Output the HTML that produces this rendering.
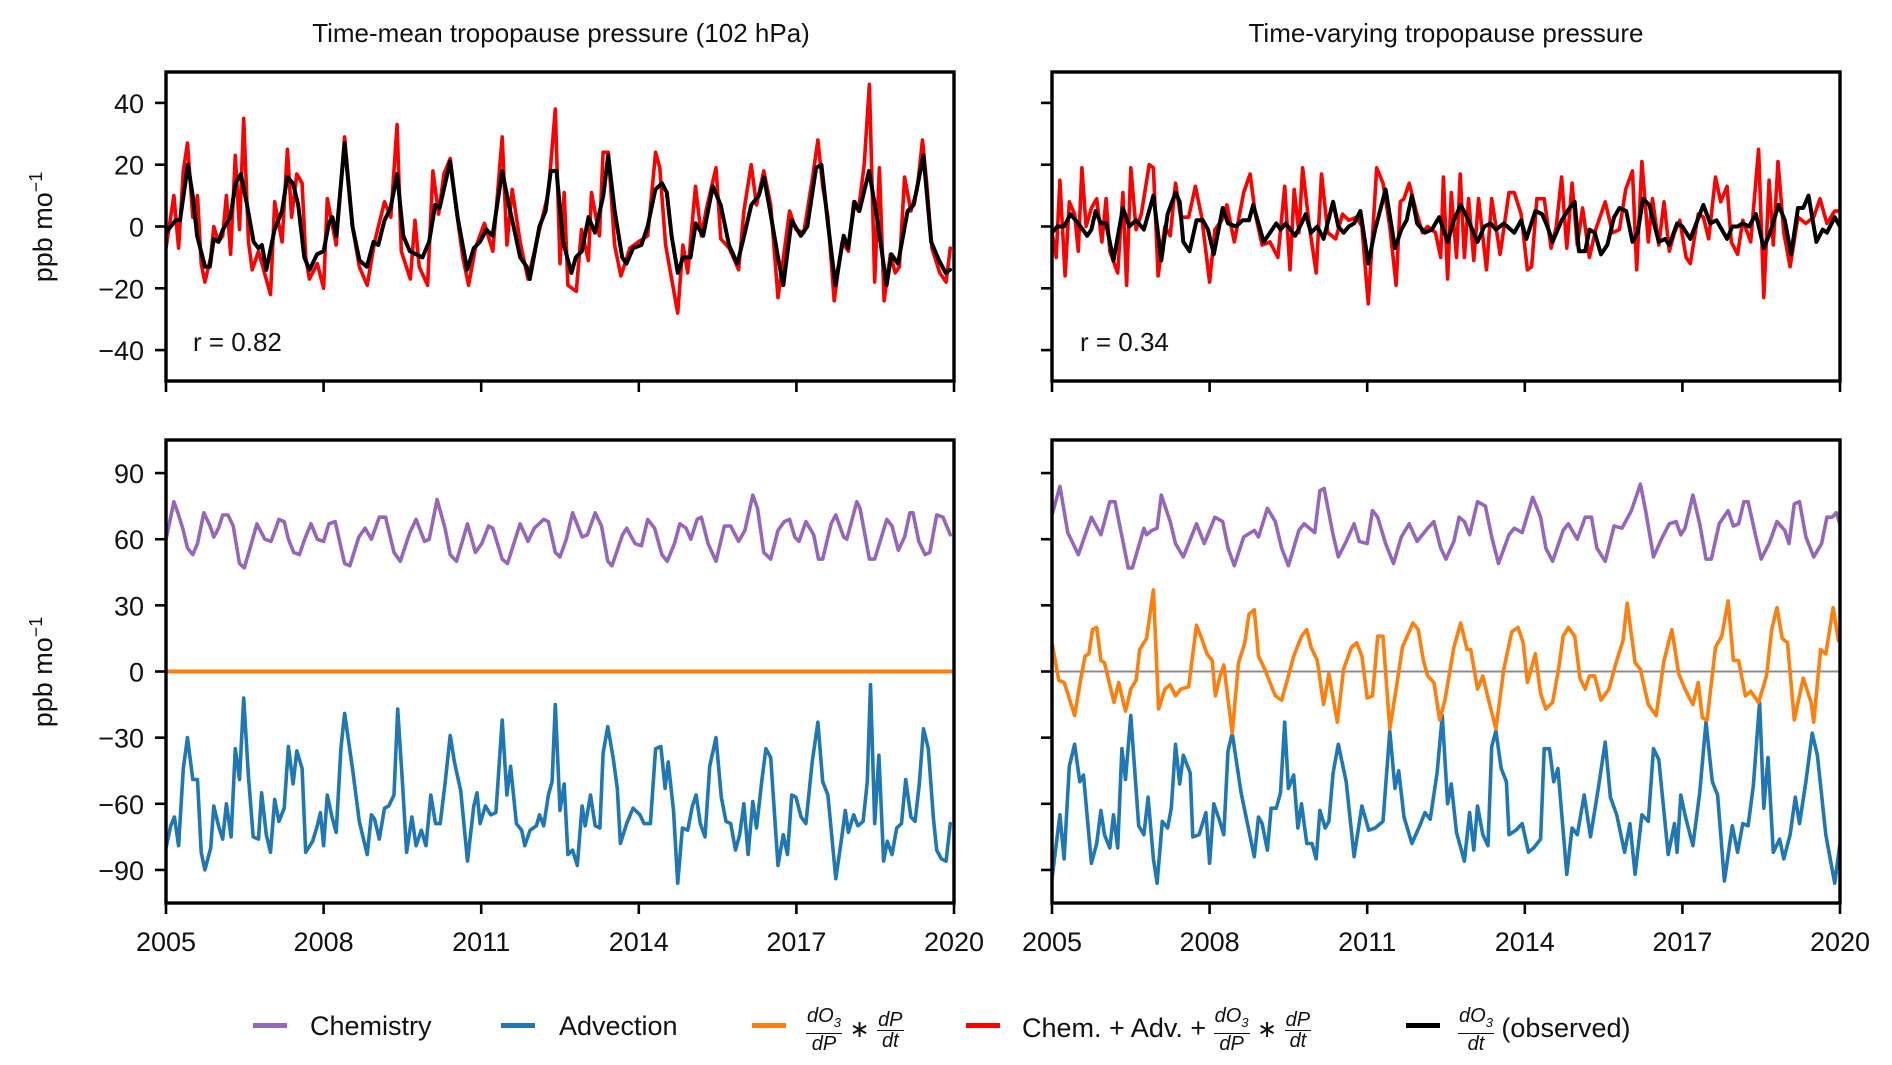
<!DOCTYPE html>
<html><head><meta charset="utf-8">
<style>
html,body{margin:0;padding:0;background:#fff;}
body{width:1892px;height:1065px;position:relative;overflow:hidden;font-family:"Liberation Sans",sans-serif;color:#111;}
svg{position:absolute;left:0;top:0;}
svg text{font-family:"Liberation Sans",sans-serif;fill:#111;}
.leg{position:absolute;top:1006px;height:40px;font-size:27px;line-height:40px;white-space:nowrap;}
.sw{position:absolute;top:1023px;width:34px;height:5px;}
.frac{display:inline-block;vertical-align:middle;text-align:center;font-style:italic;font-size:20px;line-height:20px;}
.frac .n{display:block;border-bottom:1.5px solid #111;padding:0 1px;}
.frac .d{display:block;}
</style></head><body>
<svg id="chart" width="1892" height="1065" viewBox="0 0 1892 1065"></svg>

<div class="sw" style="left:253px;background:#9467bd"></div>
<div class="leg" style="left:310px">Chemistry</div>
<div class="sw" style="left:501px;background:#1f77b4"></div>
<div class="leg" style="left:559px">Advection</div>
<div class="sw" style="left:752px;background:#ff7f0e"></div>
<div class="leg" style="left:806px"><span class="frac"><span class="n">dO<sub style="font-size:13px">3</sub></span><span class="d">dP</span></span> <span style="font-size:24px">∗</span> <span class="frac"><span class="n">dP</span><span class="d">dt</span></span></div>
<div class="sw" style="left:966px;background:#ff0000"></div>
<div class="leg" style="left:1022px">Chem. + Adv. + <span class="frac"><span class="n">dO<sub style="font-size:13px">3</sub></span><span class="d">dP</span></span> <span style="font-size:24px">∗</span> <span class="frac"><span class="n">dP</span><span class="d">dt</span></span></div>
<div class="sw" style="left:1406px;background:#000"></div>
<div class="leg" style="left:1458px"><span class="frac"><span class="n">dO<sub style="font-size:13px">3</sub></span><span class="d">dt</span></span> (observed)</div>

<script>
// ---- data (times in years since Jan 2005 unless noted) ----
const leftRedT=[0,.15,.24,.33,.41,.51,.60,.67,.74,.85,.91,1.00,1.08,1.15,1.23,1.32,1.40,1.48,1.57,1.64,1.76,1.99,2.07,2.21,2.31,2.39,2.49,2.59,2.66,2.73,2.88,3.00,3.07,3.24,3.40,3.55,3.68,3.83,3.97,4.16,4.28,4.40,4.48,4.65,4.74,4.82,4.98,5.08,5.19,5.29,5.41,5.53,5.65,5.76,5.89,6.06,6.22,6.40,6.49,6.59,6.74,6.89,7.11,7.28,7.41,7.50,7.58,7.65,7.81,7.91,8.04,8.10,8.25,8.32,8.42,8.54,8.66,8.83,8.99,9.17,9.32,9.40,9.51,9.74,9.84,9.93,10.08,10.19,10.29,10.47,10.56,10.72,10.90,11.00,11.14,11.24,11.38,11.51,11.65,11.77,11.87,11.99,12.14,12.30,12.41,12.50,12.60,12.72,12.87,12.99,13.09,13.18,13.29,13.39,13.49,13.58,13.67,13.79,13.88,13.96,14.06,14.18,14.30,14.40,14.48,14.58,14.73,14.85,14.93];
const leftRedV=[-7,10,-7,18,27,3,10,-12,-18,-10,0,-5,-3,10,-9,23,-1,35,-5,-14,-8,-22,8,-5,25,3,17,14,-10,-17,-12,-20,9,-6,29,0,-13,-19,-5,8,3,33,-8,-17,2,-13,-19,18,4,17,22,5,-10,-19,-7,1,-8,29,-6,12,-5,-17,-1,11,38,-12,11,-19,-21,-1,-11,11,-3,24,24,-6,-16,-7,-5,-3,24,19,-6,-28,-6,-15,13,-3,6,19,-4,-7,-14,5,20,7,18,7,-23,-8,5,-1,-2,15,28,13,3,-24,-5,-8,8,5,20,46,-18,19,-24,-9,-15,-13,16,5,12,28,14,-7,-15,-18,-7];
const leftObsMonths=[0,2.2,3.2,5,6.1,7.1,8.9,10,10.9,12,13,14.7,15.9,17.1,18.5,20,21.1,21.9,22.9,24.8,26.5,27.7,29,30.2,31.6,32.8,34.5,36,37.2,38,38.9,40.8,42.6,44.2,45.9,47.4,48.5,49.9,51.3,52.8,54.2,55.7,57.1,58.6,60.1,61.5,62.5,64.9,66.6,68.8,70.3,71.7,73.2,74.6,76.8,78.3,79.4,80.9,82.4,83.1,85.3,86.7,87.9,89.2,90.7,92.6,93.6,95,96.5,98,99.9,101,102.5,104.2,105.2,106.7,108.6,110,111.8,113.3,114.4,115.5,116.9,118.1,119.8,121,122.7,124.9,126.7,128.6,130.5,131.9,133.7,135.4,136.6,138,139.8,141,142.9,145,146.5,148.5,149.7,151.2,152.9,154.8,155.8,157.3,158.4,160.6,162.5,164.6,165.7,167.2,169.4,170.8,173,174.8,176.6,178.1,179.1];
const leftObsV=[-2,2,2,20,10,-3,-13,-13,-4,-5,-1,3,14,17,7,-5,-7,-6,-14,-1,5,16,14,7,-10,-14,-9,-8,1,3,-3,27,0,-11,-13,-5,-6,2,6,17,-3,-8,-9,-10,-5,7,6,21,3,-14,-7,-5,-1,-3,18,7,0,-10,-13,-17,0,5,18,18,-5,-15,-10,-8,3,-2,10,23,5,-10,-12,-7,-6,0,12,14,11,-3,-15,-10,-10,1,-3,13,7,-6,-12,-4,7,10,16,5,-10,-19,2,-3,0,19,20,1,-19,-3,-7,8,5,18,2,-19,-9,-12,5,7,23,-5,-11,-15,-14];
const leftChemT=[0,.15,.24,.33,.41,.51,.60,.72,.84,.91,1.00,1.08,1.18,1.28,1.40,1.49,1.60,1.73,1.88,2.00,2.15,2.25,2.33,2.43,2.54,2.64,2.76,2.88,3.00,3.10,3.22,3.40,3.50,3.67,3.79,3.91,4.06,4.18,4.34,4.46,4.64,4.76,4.92,5.01,5.16,5.31,5.41,5.53,5.74,5.89,6.01,6.14,6.22,6.40,6.50,6.74,6.89,7.01,7.19,7.28,7.41,7.50,7.62,7.74,7.92,8.02,8.17,8.29,8.41,8.49,8.69,8.77,8.93,9.05,9.17,9.30,9.44,9.54,9.68,9.78,9.90,9.99,10.11,10.19,10.32,10.47,10.63,10.75,10.90,11.02,11.17,11.26,11.38,11.51,11.65,11.77,11.87,11.97,12.05,12.18,12.33,12.42,12.50,12.66,12.75,12.90,12.96,13.15,13.21,13.39,13.49,13.72,13.82,13.94,14.06,14.16,14.22,14.33,14.45,14.54,14.67,14.79,14.93];
const leftChemV=[60,77,71,64,56,53,58,72,66,61,65,71,71,66,49,47,56,67,60,59,69,68,60,54,53,60,67,60,59,67,68,49,48,61,65,60,70,70,54,50,63,69,59,60,78,65,53,50,67,54,58,66,65,51,49,67,59,65,69,68,54,52,60,72,61,62,72,66,50,48,62,65,58,57,69,65,53,50,58,67,65,60,69,70,58,50,66,66,59,64,80,74,54,51,64,68,69,61,59,68,62,51,51,67,71,61,60,77,74,51,51,69,66,55,61,72,72,59,53,54,71,70,62];
const leftAdvT=[0,.09,.16,.24,.33,.41,.51,.60,.67,.74,.85,.91,1.00,1.08,1.15,1.24,1.32,1.40,1.48,1.57,1.66,1.76,1.82,1.91,1.99,2.07,2.15,2.25,2.33,2.42,2.49,2.59,2.66,2.79,2.88,2.94,3.00,3.07,3.16,3.24,3.33,3.40,3.55,3.68,3.83,3.91,3.97,4.06,4.16,4.24,4.34,4.41,4.50,4.58,4.68,4.76,4.86,4.95,5.04,5.13,5.22,5.31,5.41,5.49,5.61,5.74,5.86,5.92,5.98,6.08,6.18,6.28,6.40,6.49,6.56,6.67,6.77,6.83,6.93,7.05,7.11,7.19,7.28,7.35,7.41,7.50,7.58,7.65,7.74,7.83,7.92,7.98,8.08,8.17,8.26,8.32,8.41,8.51,8.59,8.65,8.77,8.89,9.02,9.10,9.22,9.32,9.42,9.50,9.56,9.66,9.74,9.83,9.93,10.02,10.09,10.17,10.26,10.35,10.47,10.57,10.66,10.75,10.84,10.92,11.00,11.08,11.17,11.24,11.34,11.42,11.51,11.65,11.75,11.83,11.91,11.99,12.09,12.18,12.30,12.41,12.50,12.60,12.75,12.87,12.93,12.99,13.09,13.17,13.27,13.35,13.41,13.49,13.57,13.66,13.73,13.82,13.91,14.00,14.08,14.18,14.26,14.34,14.42,14.51,14.61,14.67,14.76,14.85,14.93];
const leftAdvV=[-80,-70,-66,-79,-44,-30,-49,-49,-82,-90,-80,-61,-70,-76,-60,-75,-35,-49,-12,-48,-75,-76,-55,-74,-82,-58,-68,-62,-34,-51,-36,-44,-82,-77,-70,-64,-79,-56,-66,-73,-35,-19,-44,-68,-83,-65,-67,-76,-62,-61,-56,-17,-50,-82,-66,-79,-72,-79,-56,-69,-69,-51,-29,-41,-54,-86,-61,-55,-69,-61,-65,-64,-22,-56,-43,-69,-72,-79,-72,-70,-65,-70,-56,-50,-15,-63,-51,-83,-81,-88,-61,-70,-56,-70,-71,-37,-25,-39,-53,-78,-69,-62,-65,-69,-69,-35,-34,-53,-41,-63,-96,-71,-72,-61,-56,-69,-75,-43,-30,-57,-68,-69,-81,-74,-60,-83,-59,-71,-50,-35,-39,-88,-74,-83,-56,-57,-66,-69,-41,-23,-50,-56,-94,-74,-63,-73,-65,-70,-68,-50,-6,-69,-38,-86,-77,-83,-71,-69,-49,-66,-68,-51,-26,-35,-67,-81,-85,-86,-69];
const leftTropT=[0,15];
const leftTropV=[0,0];

const rightRedT=[0,.08,.15,.25,.33,.43,.5,.57,.65,.75,.85,.95,1.03,1.1,1.25,1.35,1.42,1.5,1.6,1.7,1.85,1.93,2.02,2.15,2.25,2.35,2.45,2.6,2.73,2.85,3.0,3.1,3.23,3.33,3.47,3.65,3.77,3.87,4.0,4.15,4.3,4.43,4.53,4.61,4.7,4.77,4.9,5.03,5.13,5.25,5.4,5.53,5.65,5.8,5.9,6.02,6.18,6.3,6.43,6.55,6.63,6.7,6.8,6.93,7.05,7.15,7.3,7.4,7.45,7.53,7.6,7.7,7.77,7.85,7.93,8.03,8.12,8.27,8.37,8.53,8.7,8.8,8.93,9.05,9.13,9.23,9.37,9.5,9.6,9.7,9.8,9.9,10.0,10.1,10.23,10.35,10.53,10.67,10.8,10.92,11.05,11.13,11.23,11.35,11.43,11.55,11.65,11.75,11.85,11.95,12.07,12.15,12.3,12.4,12.5,12.63,12.73,12.85,12.93,13.05,13.15,13.3,13.45,13.55,13.65,13.73,13.82,13.93,14.05,14.2,14.35,14.5,14.62,14.75,14.9,15.0];
const rightRedV=[-2,-10,15,-16,8,4,-8,19,0,6,9,-5,9,-8,-15,11,-19,19,-1,4,20,19,-16,0,-3,14,3,3,13,3,-18,-1,2,7,-5,11,17,4,-6,-5,-10,13,-14,12,-2,19,0,-15,17,-2,-4,4,2,3,0,-25,19,14,0,-19,8,9,14,5,-2,0,-2,-10,16,-17,11,-10,17,-10,9,-11,9,-14,9,-9,11,11,4,-14,-13,9,9,-7,0,16,-7,14,-6,6,-10,-1,8,-2,-1,12,18,-14,21,-5,9,-6,8,-8,-2,2,-10,-12,4,3,-4,16,8,13,-5,-9,2,-5,25,-23,15,-6,21,-2,-13,3,1,3,9,1,5,5];
const rightObsT=[0,.1,.23,.35,.5,.67,.75,.83,.93,1.03,1.17,1.35,1.47,1.6,1.75,1.93,2.08,2.2,2.35,2.43,2.5,2.62,2.75,2.87,2.97,3.08,3.25,3.35,3.5,3.63,3.75,3.83,4.03,4.15,4.27,4.35,4.45,4.63,4.75,4.83,4.93,5.05,5.17,5.35,5.45,5.55,5.65,5.75,5.87,6.02,6.15,6.35,6.53,6.65,6.75,6.85,6.95,7.1,7.23,7.37,7.53,7.65,7.78,7.9,8.1,8.23,8.35,8.45,8.6,8.8,8.93,9.03,9.2,9.33,9.43,9.53,9.7,9.85,9.95,10.03,10.15,10.23,10.33,10.45,10.57,10.7,10.8,10.93,11.05,11.15,11.25,11.37,11.55,11.67,11.75,11.9,12.0,12.15,12.4,12.53,12.65,12.75,12.85,12.95,13.05,13.15,13.27,13.4,13.55,13.67,13.83,13.95,14.07,14.2,14.3,14.4,14.55,14.67,14.75,14.9,15.0];
const rightObsV=[-2,0,0,4,1,-3,-1,5,1,1,-11,6,0,2,-1,10,-11,4,11,8,-5,-8,2,2,-1,-9,6,1,0,2,2,7,-5,-2,1,-1,1,-3,1,4,-2,0,-4,8,0,-2,0,1,5,-12,-1,12,-7,-1,2,10,1,-2,-1,3,-5,2,7,3,-5,0,1,-1,1,-2,2,-4,5,4,0,-5,2,6,8,-8,-8,-1,-2,-9,-6,3,6,5,-5,-2,9,7,-5,-4,-6,1,0,-4,7,1,2,-1,-4,0,0,1,0,4,-7,-2,7,2,-9,6,6,10,-5,-1,-2,3,0];
const rightChemT=[0,.15,.3,.5,.75,.93,1.1,1.2,1.45,1.53,1.75,1.8,1.9,2.0,2.08,2.25,2.35,2.5,2.75,2.9,3.1,3.25,3.35,3.47,3.65,3.85,3.93,4.1,4.25,4.37,4.5,4.7,4.8,5.0,5.1,5.18,5.35,5.45,5.6,5.75,5.85,6.0,6.1,6.2,6.35,6.5,6.65,6.8,6.95,7.15,7.27,7.4,7.5,7.65,7.75,7.85,7.95,8.1,8.25,8.37,8.5,8.7,8.8,8.95,9.15,9.3,9.4,9.53,9.73,9.83,10.0,10.15,10.27,10.37,10.53,10.7,10.85,11.03,11.2,11.3,11.45,11.6,11.75,11.88,11.97,12.05,12.2,12.33,12.45,12.55,12.7,12.87,12.97,13.07,13.17,13.25,13.4,13.5,13.65,13.8,13.95,14.03,14.13,14.23,14.35,14.5,14.65,14.75,14.85,14.93,15.0];
const rightChemV=[71,84,63,53,70,62,77,77,47,47,65,62,64,65,80,68,58,52,67,58,70,68,56,48,61,64,61,74,68,56,48,64,67,63,82,83,62,52,59,67,59,58,73,70,58,49,61,67,59,65,68,56,51,59,70,68,62,77,75,61,49,62,65,63,79,70,56,50,64,67,60,70,70,56,50,66,65,73,85,73,52,60,67,68,62,65,80,67,51,51,67,73,66,67,77,77,61,51,58,68,64,58,76,77,61,52,58,70,70,72,67];
const rightTropT=[0,.13,.23,.3,.43,.55,.63,.7,.77,.85,.93,1.0,1.08,1.18,1.27,1.4,1.5,1.6,1.67,1.8,1.93,2.03,2.15,2.25,2.35,2.45,2.6,2.75,2.85,2.95,3.05,3.11,3.2,3.27,3.43,3.55,3.67,3.75,3.85,3.93,4.05,4.15,4.25,4.37,4.5,4.6,4.75,4.85,4.93,5.05,5.17,5.27,5.43,5.55,5.7,5.8,5.9,6.0,6.1,6.2,6.3,6.43,6.55,6.67,6.87,6.97,7.07,7.15,7.27,7.38,7.48,7.65,7.78,7.9,7.97,8.1,8.2,8.28,8.45,8.6,8.75,8.87,8.97,9.05,9.2,9.3,9.4,9.53,9.65,9.73,9.83,9.95,10.05,10.15,10.23,10.33,10.45,10.6,10.75,10.87,10.95,11.1,11.2,11.35,11.5,11.65,11.8,11.93,12.05,12.2,12.3,12.38,12.47,12.63,12.75,12.87,12.97,13.07,13.2,13.3,13.45,13.6,13.7,13.8,13.9,14.0,14.13,14.3,14.45,14.5,14.63,14.73,14.87,14.97];
const rightTropV=[13,-4,-5,-10,-20,-3,7,8,19,20,5,4,-4,-14,-5,-18,-8,-4,10,15,37,-17,-8,-6,-11,-8,-7,21,15,8,5,-11,-2,3,-28,4,13,26,28,7,1,-5,-11,-13,-2,7,16,19,11,5,-15,-1,-23,1,11,13,7,-12,-11,16,16,-26,-8,11,22,19,5,-2,-5,-22,-13,11,22,10,10,-8,-2,-10,-26,1,18,20,13,-5,8,-10,-17,-14,2,16,20,16,-3,-8,-2,-2,-13,-8,5,14,31,4,1,-15,-20,5,19,-1,-8,-15,-5,-21,-22,11,16,32,5,5,-11,-9,-14,-2,19,29,15,13,-22,-3,-14,-23,10,8,29,14];
const rightAdvT=[0,.15,.23,.33,.43,.53,.6,.75,.85,.93,1.0,1.1,1.17,1.25,1.33,1.4,1.5,1.65,1.75,1.83,1.93,2.0,2.1,2.2,2.27,2.35,2.43,2.5,2.63,2.68,2.8,2.93,3.0,3.08,3.18,3.27,3.35,3.43,3.6,3.85,3.93,4.0,4.1,4.17,4.27,4.35,4.43,4.5,4.6,4.68,4.75,4.85,4.95,5.03,5.1,5.2,5.27,5.35,5.45,5.6,5.75,5.9,6.03,6.15,6.3,6.43,6.53,6.6,6.7,6.85,7.0,7.1,7.2,7.33,7.43,7.53,7.6,7.7,7.85,7.95,8.03,8.1,8.2,8.3,8.37,8.45,8.55,8.65,8.7,8.83,8.95,9.07,9.17,9.3,9.37,9.47,9.55,9.63,9.8,9.9,10.0,10.13,10.25,10.4,10.53,10.63,10.75,10.9,11.0,11.1,11.23,11.35,11.45,11.55,11.73,11.85,11.9,11.97,12.05,12.2,12.33,12.45,12.57,12.67,12.8,12.95,13.05,13.15,13.25,13.35,13.47,13.55,13.63,13.73,13.85,13.93,14.05,14.15,14.23,14.35,14.47,14.57,14.73,14.9,15.0];
const rightAdvV=[-94,-65,-85,-43,-33,-50,-47,-87,-78,-63,-74,-80,-65,-80,-35,-49,-20,-70,-74,-57,-85,-96,-68,-71,-62,-33,-51,-38,-46,-75,-74,-64,-87,-60,-67,-74,-36,-28,-55,-84,-66,-69,-81,-62,-62,-55,-23,-53,-47,-71,-60,-78,-78,-85,-63,-71,-68,-46,-33,-50,-84,-61,-72,-71,-68,-27,-53,-45,-66,-78,-70,-64,-67,-46,-20,-60,-51,-73,-86,-64,-81,-61,-74,-79,-34,-27,-44,-50,-74,-72,-69,-82,-80,-76,-35,-35,-50,-44,-92,-71,-74,-56,-75,-53,-32,-57,-65,-82,-69,-92,-65,-68,-35,-40,-83,-69,-82,-56,-65,-79,-55,-23,-50,-56,-95,-70,-82,-69,-70,-52,-14,-62,-39,-82,-76,-85,-74,-57,-69,-50,-28,-38,-74,-96,-78];

const xTickLabels=["2005","2008","2011","2014","2017","2020"];
const xTickYears=[2005,2008,2011,2014,2017,2020];
const topYTicks=[-40,-20,0,20,40];
const botYTicks=[-90,-60,-30,0,30,60,90];

// ---- layout ----
const NS="http://www.w3.org/2000/svg";
const svg=document.getElementById('chart');
const COLS={L:[166,954],R:[1052,1840]};
const ROWS={T:[72,381,-50,50],B:[440,903,-105,105]};
function el(tag,attrs,parent){const e=document.createElementNS(NS,tag);for(const k in attrs)e.setAttribute(k,attrs[k]);(parent||svg).appendChild(e);return e;}
function xs(col,yrs){const c=COLS[col];return c[0]+(Math.min(15,Math.max(0,yrs))/15)*(c[1]-c[0]);}
function ys(row,v){const r=ROWS[row];return r[1]-(v-r[2])/(r[3]-r[2])*(r[1]-r[0]);}
function series(col,row,t,v,color,w,name,tScale){
  const n=Math.min(t.length,v.length);let d='';
  for(let i=0;i<n;i++){d+=(i?'L':'M')+xs(col,t[i]*(tScale||1)).toFixed(1)+','+ys(row,v[i]).toFixed(1);}
  const p=el('path',{d:d,fill:'none',stroke:color,'stroke-width':w,'stroke-linejoin':'round','stroke-linecap':'round'});
  
  
  return p;
}
function txt(x,y,s,size,anchor,name){const t=el('text',{x:x,y:y,'font-size':size,'text-anchor':anchor||'middle'});t.textContent=s;
  
  
  return t;}
function axes(col,row,showX,showY,prefix){
  const c=COLS[col],r=ROWS[row];
  const g=el('g',{});
  
  
  xTickYears.forEach((yr,i)=>{const x=xs(col,yr-2005);
    const tk=el('line',{x1:x,x2:x,y1:r[1],y2:r[1]+11,stroke:'#000','stroke-width':2.6},g);
    
    
    if(showX){txt(x,r[1]+48,xTickLabels[i],27,'middle',prefix+'-x-tick-label');}
  });
  const ticks=row==='T'?topYTicks:botYTicks;
  ticks.forEach(v=>{const y=ys(row,v);
    const tk=el('line',{x1:c[0]-11,x2:c[0],y1:y,y2:y,stroke:'#000','stroke-width':2.6},g);
    
    
    if(showY){txt(c[0]-22,y+10,(v<0?'\u2212':'')+Math.abs(v),27,'end',prefix+'-y-tick-label');}
  });
}
function frame(col,row,prefix){const c=COLS[col],r=ROWS[row];
  const f=el('rect',{x:c[0],y:r[0],width:c[1]-c[0],height:r[1]-r[0],fill:'none',stroke:'#000','stroke-width':3.4});
  
  
}
function clip(col,row,id){const c=COLS[col],r=ROWS[row];const cp=el('clipPath',{id:id});el('rect',{x:c[0],y:r[0],width:c[1]-c[0],height:r[1]-r[0]},cp);}
clip('L','T','cLT');clip('R','T','cRT');clip('L','B','cLB');clip('R','B','cRB');

// top-left
axes('L','T',false,true,'top-left');
let p;
p=series('L','T',leftRedT,leftRedV,'#ff0000',3.6,'top-left-budget-sum-line');p.setAttribute('clip-path','url(#cLT)');
p=series('L','T',leftObsMonths,leftObsV,'#000000',4,'top-left-observed-line',1/12);p.setAttribute('clip-path','url(#cLT)');
frame('L','T','top-left');
txt(193,351,'r = 0.82',26,'start','top-left-correlation');
// top-right
axes('R','T',false,false,'top-right');
p=series('R','T',rightRedT,rightRedV,'#ff0000',3.6,'top-right-budget-sum-line');p.setAttribute('clip-path','url(#cRT)');
p=series('R','T',rightObsT,rightObsV,'#000000',4,'top-right-observed-line');p.setAttribute('clip-path','url(#cRT)');
frame('R','T','top-right');
txt(1080,351,'r = 0.34',26,'start','top-right-correlation');
// bottom-left
axes('L','B',true,true,'bottom-left');
p=series('L','B',leftChemT,leftChemV,'#9467bd',3.6,'bottom-left-chemistry-line');p.setAttribute('clip-path','url(#cLB)');
p=series('L','B',leftAdvT,leftAdvV,'#1f77b4',3.6,'bottom-left-advection-line');p.setAttribute('clip-path','url(#cLB)');
p=series('L','B',leftTropT,leftTropV,'#ff7f0e',4,'bottom-left-tropopause-term-line');p.setAttribute('clip-path','url(#cLB)');
frame('L','B','bottom-left');
// bottom-right
axes('R','B',true,false,'bottom-right');
const zl=el('line',{x1:COLS.R[0],x2:COLS.R[1],y1:ys('B',0),y2:ys('B',0),stroke:'#8c8c8c','stroke-width':2});


p=series('R','B',rightChemT,rightChemV,'#9467bd',3.6,'bottom-right-chemistry-line');p.setAttribute('clip-path','url(#cRB)');
p=series('R','B',rightAdvT,rightAdvV,'#1f77b4',3.6,'bottom-right-advection-line');p.setAttribute('clip-path','url(#cRB)');
p=series('R','B',rightTropT,rightTropV,'#ff7f0e',3.6,'bottom-right-tropopause-term-line');p.setAttribute('clip-path','url(#cRB)');
frame('R','B','bottom-right');

// titles & y labels
txt(561,42,'Time-mean tropopause pressure (102 hPa)',26,'middle','left-column-title');
txt(1446,42,'Time-varying tropopause pressure',26,'middle','right-column-title');
function ylab(cy,name){const t=el('text',{x:0,y:0,'font-size':27,'text-anchor':'middle',transform:'translate(52,'+cy+') rotate(-90)'});
  t.innerHTML='ppb mo<tspan dy="-10" font-size="18">\u22121</tspan>';
  
  }
ylab(227,'top-y-axis-title');
ylab(672,'bottom-y-axis-title');
</script>
</body></html>
